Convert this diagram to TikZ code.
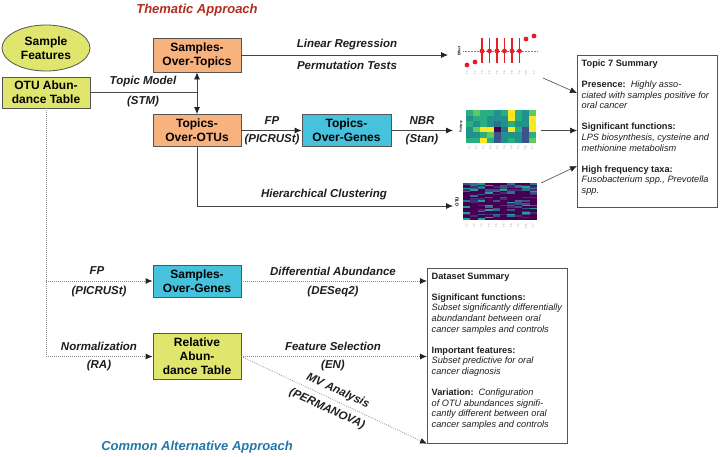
\documentclass[tikz,border=0pt]{standalone}
\usepackage{fontspec}
\setmainfont{Liberation Sans}
\usetikzlibrary{arrows.meta,shapes.geometric}
\definecolor{boxorange}{RGB}{248,178,126}
\definecolor{boxcyan}{RGB}{70,194,220}
\definecolor{boxyellow}{RGB}{224,229,110}
\definecolor{edgegray}{RGB}{85,85,85}
\definecolor{linegray}{RGB}{70,70,70}
\definecolor{tipcol}{RGB}{35,35,35}
\definecolor{dotgray}{RGB}{135,135,135}
\definecolor{labcol}{RGB}{30,30,30}
\definecolor{themred}{RGB}{178,45,30}
\definecolor{altblue}{RGB}{35,120,170}
\definecolor{dotred}{RGB}{228,30,38}
\definecolor{v0}{RGB}{68,1,84}
\definecolor{v1}{RGB}{59,82,139}
\definecolor{v2}{RGB}{44,114,142}
\definecolor{v3}{RGB}{33,145,140}
\definecolor{v4}{RGB}{40,174,128}
\definecolor{v5}{RGB}{94,201,98}
\definecolor{v6}{RGB}{253,231,37}
\definecolor{w0}{RGB}{68,1,84}
\definecolor{w1}{RGB}{72,40,120}
\definecolor{w2}{RGB}{59,82,139}
\definecolor{w3}{RGB}{44,114,142}
\definecolor{w4}{RGB}{38,160,140}
\begin{document}
\begin{tikzpicture}[x=1pt,y=-1pt,
  box/.style={draw=edgegray, line width=0.8pt, minimum width=88pt, inner sep=2pt, align=center, font=\fontsize{12}{14}\selectfont\bfseries, text=black},
  lab/.style={font=\fontsize{11.5}{13}\selectfont\bfseries\itshape, text=labcol, inner sep=0pt},
  conn/.style={draw=linegray, line width=0.8pt},
  tipa/.style={-{Latex[length=7pt,width=6pt,color=tipcol]}},
  tipboth/.style={{Latex[length=7pt,width=6pt,color=tipcol]}-{Latex[length=7pt,width=6pt,color=tipcol]}},
  dotconn/.style={draw=dotgray, line width=0.8pt, dash pattern=on 0.7pt off 1.3pt},
  sumbox/.style={draw=edgegray, line width=0.8pt, inner sep=0pt, minimum width=140pt, anchor=north west},
  sumtext/.style={font=\fontsize{9.2}{10.6}\selectfont, text=labcol, align=left, inner sep=0pt, anchor=north west},
  ticklab/.style={font=\fontsize{2.6}{3}\selectfont, text=gray, inner sep=0pt, rotate=90},
  axlab/.style={font=\fontsize{3.5}{4}\selectfont\bfseries, inner sep=0pt, rotate=90}
]
\useasboundingbox (0,0) rectangle (720,456);

% titles
\node[font=\fontsize{13}{15}\selectfont\bfseries\itshape, text=themred] (tTA) at (197,10) {Thematic Approach};
\node[font=\fontsize{13}{15}\selectfont\bfseries\itshape, text=altblue] (tCA) at (197,447) {Common Alternative Approach};

% boxes
\node[ellipse, draw=edgegray, line width=0.8pt, fill=boxyellow, minimum width=88pt, minimum height=46pt, inner sep=0pt, align=center, font=\fontsize{12}{14}\selectfont\bfseries] (sf) at (46,48) {Sample\\Features};
\node[box, fill=boxyellow, minimum height=31pt] (otu) at (46,92.5) {OTU Abun-\\dance Table};
\node[box, fill=boxorange, minimum height=34pt] (sot) at (197,55) {Samples-\\Over-Topics};
\node[box, fill=boxorange, minimum height=32pt] (too) at (197,130.5) {Topics-\\Over-OTUs};
\node[box, fill=boxcyan, minimum height=32pt, minimum width=89pt] (tog) at (346.5,130.5) {Topics-\\Over-Genes};
\node[box, fill=boxcyan, minimum height=32pt] (sog) at (197,281) {Samples-\\Over-Genes};
\node[box, fill=boxyellow, minimum height=46pt] (rat) at (197,356.5) {Relative\\Abun-\\dance Table};

% summary boxes
\node[sumbox, minimum height=152pt] (t7) at (577,55) {};
\node[sumtext] (t7txt) at (581.5,59.5) {\textbf{Topic 7 Summary}\\[10.6pt]
\textbf{Presence:}\ \ \textit{Highly asso-}\\
\textit{ciated with samples positive for}\\
\textit{oral cancer}\\[10.6pt]
\textbf{Significant functions:}\\
\textit{LPS biosynthesis, cysteine and}\\
\textit{methionine metabolism}\\[10.6pt]
\textbf{High frequency taxa:}\\
\textit{Fusobacterium spp., Prevotella}\\
\textit{spp.}};
\node[sumbox, minimum height=175pt] (ds) at (427,268) {};
\node[sumtext] (dstxt) at (431.5,272.5) {\textbf{Dataset Summary}\\[10.6pt]
\textbf{Significant functions:}\\
\textit{Subset significantly differentially}\\
\textit{abundandant between oral}\\
\textit{cancer samples and controls}\\[10.6pt]
\textbf{Important features:}\\
\textit{Subset predictive for oral}\\
\textit{cancer diagnosis}\\[10.6pt]
\textbf{Variation:}\ \ \textit{Configuration}\\
\textit{of OTU abundances signifi-}\\
\textit{cantly different between oral}\\
\textit{cancer samples and controls}};

% plot 1: effects
\node[axlab] (p1ax) at (459,51) {Effect};
\draw[gray, line width=0.4pt, dash pattern=on 0.6pt off 0.9pt] (463,51) -- (538,51);
\foreach \x in {482,489.5,497,504.5,512,519.5} {
  \draw[dotred, line width=1.2pt] (\x,38) -- (\x,63);
  \fill[dotred] (\x,51) circle (2.4);
}
\foreach \x/\y in {467/65, 475/62, 526/39, 534/36} \fill[dotred] (\x,\y) circle (2.4);
\foreach \x/\t [count=\i] in {467/T1,475/T2,482/T3,489.5/T4,497/T5,504.5/T6,512/T8,519.5/T9,526/T10,534/T7}
  \node[ticklab] (p1t\i) at (\x,73) {\t};

% heatmap 1
\node[axlab, font=\fontsize{3}{4}\selectfont\bfseries] (hm1ax) at (461,126.5) {Pathway};
\foreach \row [count=\r] in {{4,5,4,4,3,4,6,4,3,5},{3,4,4,3,3,3,6,4,3,6},{4,3,4,3,2,3,4,3,3,6},{3,5,6,6,0,2,6,4,1,6},{3,3,4,5,1,3,3,3,1,4},{4,4,6,4,1,3,4,3,1,5}} {
  \foreach \v [count=\c] in \row {
    \fill[v\v] ({466+7*(\c-1)},{110+5.5*(\r-1)}) rectangle ++(7,5.5);
  }
}
\foreach \t [count=\i] in {T1,T2,T3,T4,T5,T6,T8,T9,T10,T7}
  \node[ticklab] (h1t\i) at ({466+7*(\i-0.5)},148) {\t};

% heatmap 2
\node[axlab, font=\fontsize{4.5}{5}\selectfont\bfseries] (hm2ax) at (457,201.5) {OTU};
\pgfmathsetseed{12}
\foreach \c in {1,...,10} {
  \foreach \r in {1,...,24} {
    \pgfmathrandominteger{\k}{0}{19}
    \pgfmathtruncatemacro{\idx}{(\r<7) ? ((\k<8) ? 0 : ((\k<11) ? 1 : ((\k<14) ? 2 : ((\k<17) ? 3 : 4)))) : ((\k<13) ? 0 : ((\k<16) ? 1 : ((\k<18) ? 2 : ((\k<19) ? 3 : 4))))}
    \fill[w\idx] ({463+7.4*(\c-1)},{183+1.5417*(\r-1)}) rectangle ++(7.4,1.5417);
  }
}
\foreach \t [count=\i] in {T1,T2,T3,T4,T5,T6,T8,T9,T10,T7}
  \node[ticklab] (h2t\i) at ({463+7.4*(\i-0.5)},226) {\t};

% coordinates
\coordinate (p1in) at (448,55);
\coordinate (hm1in) at (453,130.5);
\coordinate (hm2in) at (453,206);
\coordinate (p1out) at (543,78);
\coordinate (hm1out) at (541,130.5);
\coordinate (hm2out) at (541,183);
\coordinate (t7a) at (577,93);
\coordinate (t7b) at (577,130.5);
\coordinate (t7c) at (577,166);

% solid connectors
\draw[conn] (otu.east) -- (otu.east -| sot.south);
\draw[conn,tipboth] (sot.south) -- (too.north);
\draw[conn,tipa] (sot.east) -- (p1in);
\draw[conn,tipa] (too.east) -- (tog.west);
\draw[conn,tipa] (tog.east) -- (hm1in);
\draw[conn,tipa] (too.south) |- (hm2in);
\draw[conn,line width=0.6pt,tipa] (p1out) -- (t7a);
\draw[conn,line width=0.6pt,tipa] (hm1out) -- (t7b);
\draw[conn,line width=0.6pt,tipa] (hm2out) -- (t7c);

% dotted connectors
\draw[dotconn,tipa] (otu.south) |- (rat.west);
\draw[dotconn,tipa] (otu.south |- sog.west) -- (sog.west);
\draw[dotconn,tipa] (sog.east) -- (sog.east -| ds.west);
\draw[dotconn,tipa] (rat.east) -- (rat.east -| ds.west);
\draw[dotconn,tipa] (rat.east) -- (ds.south west);

% labels
\node[lab] (lTM) at (143,82) {Topic Model};
\node[lab] (lSTM) at (143,102) {(STM)};
\node[lab] (lLR) at (347,45) {Linear Regression};
\node[lab] (lPT) at (347,65) {Permutation Tests};
\node[lab] (lFP1) at (272,121) {FP};
\node[lab] (lPIC1) at (272,140) {(PICRUSt)};
\node[lab] (lNBR) at (422,121) {NBR};
\node[lab] (lStan) at (422,140) {(Stan)};
\node[lab] (lHC) at (324,195) {Hierarchical Clustering};
\node[lab] (lFP2) at (97,271) {FP};
\node[lab] (lPIC2) at (99,292) {(PICRUSt)};
\node[lab] (lNorm) at (99,346) {Normalization};
\node[lab] (lRA) at (99,366) {(RA)};
\node[lab] (lDA) at (333,271) {Differential Abundance};
\node[lab] (lDES) at (333,292) {(DESeq2)};
\node[lab] (lFS) at (333,346) {Feature Selection};
\node[lab] (lEN) at (333,366) {(EN)};
\node[lab, rotate=-24.6] (lMV) at (338,391) {MV Analysis};
\node[lab, rotate=-24.6] (lPERM) at (327,409) {(PERMANOVA)};
\end{tikzpicture}
\end{document}
